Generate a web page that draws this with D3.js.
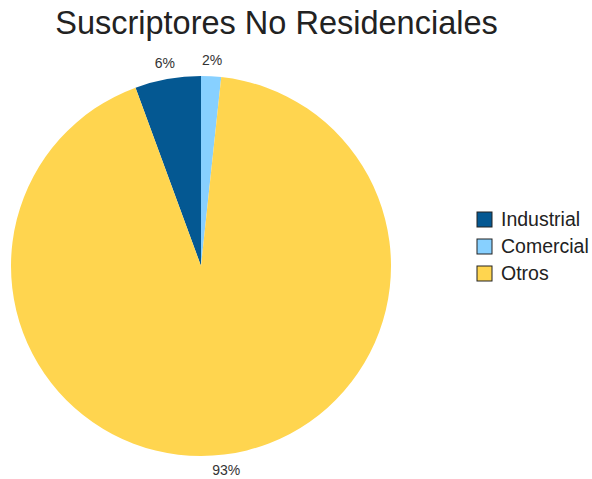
<!DOCTYPE html>
<html><head><meta charset="utf-8">
<script src="https://cdn.jsdelivr.net/npm/d3@7"></script>
<style>body{margin:0;background:#fff}</style>
</head><body>
<svg id="c" width="592" height="479"></svg>
<script>
const categories = ["Industrial", "Comercial", "Otros"];
const values = [5.6, 1.7, 92.7];
const colors = ["#045892", "#87d0ff", "#ffd54f"];
const title = "Suscriptores No Residenciales";

const svg = d3.select("#c");
const W = 592, H = 479;
svg.append("rect").attr("width", W).attr("height", H).attr("fill", "#fff");

svg.append("text").attr("x", 276.5).attr("y", 34).attr("text-anchor", "middle")
  .attr("font-family", "Liberation Sans, Arial, sans-serif").attr("font-size", 32.5)
  .attr("fill", "#222").text(title);

const cx = 201, cy = 266, r = 190;
const total = d3.sum(values);
const start = -values[0] / total * 2 * Math.PI;
const pie = d3.pie().sort(null).startAngle(start).endAngle(start + 2 * Math.PI);
const arcs = pie(values);
const arc = d3.arc().innerRadius(0).outerRadius(r);
const color = d3.scaleOrdinal().domain(categories).range(colors);
const g = svg.append("g").attr("transform", `translate(${cx},${cy})`);
g.selectAll("path").data(arcs).join("path")
  .attr("d", arc).attr("fill", (d, i) => color(categories[i]));

const fmt = d3.format(".0%");
const lr = 206;
g.selectAll("text.l").data(arcs).join("text").attr("class", "l")
  .attr("x", d => lr * Math.sin((d.startAngle + d.endAngle) / 2))
  .attr("y", d => -lr * Math.cos((d.startAngle + d.endAngle) / 2))
  .attr("dy", "0.35em").attr("text-anchor", "middle")
  .attr("font-family", "Liberation Sans, Arial, sans-serif").attr("font-size", 14)
  .attr("fill", "#333")
  .text(d => fmt(d.value / total));

const leg = svg.append("g").attr("transform", "translate(477,212)");
const rows = leg.selectAll("g").data(categories).join("g")
  .attr("transform", (d, i) => `translate(0,${i * 27})`);
rows.append("rect").attr("width", 15).attr("height", 15)
  .attr("fill", d => color(d)).attr("stroke", "#222").attr("stroke-width", 1);
rows.append("text").attr("x", 24).attr("y", 7).attr("dy", "0.35em")
  .attr("font-family", "Liberation Sans, Arial, sans-serif").attr("font-size", 19.5)
  .attr("fill", "#222").text(d => d);
</script>
</body></html>
